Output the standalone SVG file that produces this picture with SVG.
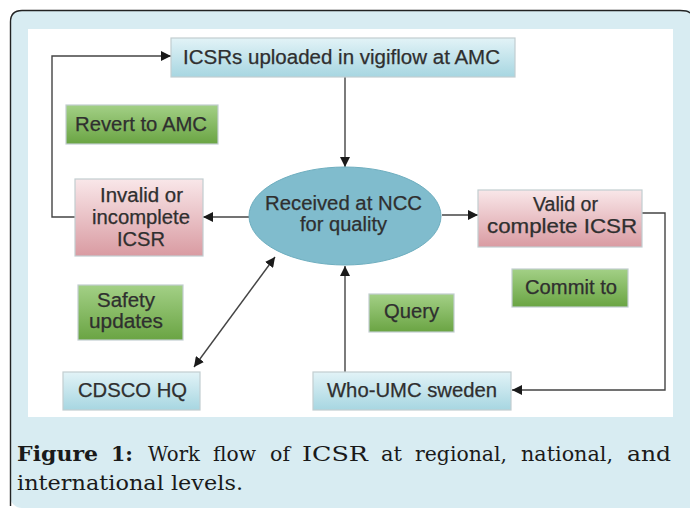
<svg xmlns="http://www.w3.org/2000/svg" width="690" height="513" viewBox="0 0 690 513">
  <defs>
    <linearGradient id="gBlue" x1="0" y1="0" x2="0" y2="1">
      <stop offset="0" stop-color="#e2f3f7"/>
      <stop offset="1" stop-color="#a7d6e1"/>
    </linearGradient>
    <linearGradient id="gGreen" x1="0" y1="0" x2="0" y2="1">
      <stop offset="0" stop-color="#a3d086"/>
      <stop offset="1" stop-color="#6aa443"/>
    </linearGradient>
    <linearGradient id="gPink" x1="0" y1="0" x2="0" y2="1">
      <stop offset="0" stop-color="#f9e7e9"/>
      <stop offset="1" stop-color="#d99ba2"/>
    </linearGradient>
    <marker id="arr" viewBox="0 0 10 10" refX="10" refY="5" markerWidth="10" markerHeight="10" markerUnits="userSpaceOnUse" orient="auto-start-reverse">
      <path d="M0,0 L10,5 L0,10 Z" fill="#1a1a1a"/>
    </marker>
    <style>
      .box { stroke: #c2cdd0; stroke-width: 1.2; }
      .blue { fill: url(#gBlue); }
      .green { fill: url(#gGreen); }
      .pink { fill: url(#gPink); }
      .lbl { font-family: "Liberation Sans", Arial, sans-serif; font-size: 20px; fill: #2f2f2f; stroke: #2f2f2f; stroke-width: 0.25; }
      .conn { fill: none; stroke: #444; stroke-width: 1.4; }
      .cap { font-family: "DejaVu Serif", "Liberation Serif", serif; font-size: 21px; fill: #1a1a1a; }
      .capb { font-weight: bold; }
    </style>
  </defs>

  <!-- figure panel -->
  <rect x="10" y="10" width="692" height="498" rx="12" fill="#d8ecf2"/>
  <path d="M10.5,506 L10.5,22 Q10.5,10.5 22,10.5 L680,10.5 Q688,10.5 690,13" fill="none" stroke="#222" stroke-width="1.4"/>
  <rect x="28" y="29" width="645" height="388" fill="#ffffff"/>

  <!-- connectors -->
  <g id="connectors">
    <path class="conn" d="M345,77 L345,167" marker-end="url(#arr)"/>
    <path class="conn" d="M249,217 L203,217" marker-end="url(#arr)"/>
    <path class="conn" d="M442,215 L478,215" marker-end="url(#arr)"/>
    <path class="conn" d="M75,217 L52,217 L52,56 L171,56" marker-end="url(#arr)"/>
    <path class="conn" d="M642,213 L665,213 L665,390 L512,390" marker-end="url(#arr)"/>
    <path class="conn" d="M345,372 L345,266" marker-end="url(#arr)"/>
    <path class="conn" d="M194,367 L275,257" marker-start="url(#arr)" marker-end="url(#arr)"/>
  </g>

  <g id="amc">
    <rect class="box blue" x="171" y="38" width="344" height="39"/>
    <text class="lbl" x="183" y="64" textLength="317" lengthAdjust="spacingAndGlyphs">ICSRs uploaded in vigiflow at AMC</text>
  </g>

  <g id="revert">
    <rect class="box green" x="66" y="105" width="152" height="39"/>
    <text class="lbl" x="75" y="131" textLength="132" lengthAdjust="spacingAndGlyphs">Revert to AMC</text>
  </g>

  <g id="invalid">
    <rect class="box pink" x="75" y="179" width="128" height="77"/>
    <text class="lbl" x="100" y="202" textLength="83" lengthAdjust="spacingAndGlyphs">Invalid or</text>
    <text class="lbl" x="92" y="224" textLength="98" lengthAdjust="spacingAndGlyphs">incomplete</text>
    <text class="lbl" x="117" y="246" textLength="48" lengthAdjust="spacingAndGlyphs">ICSR</text>
  </g>

  <g id="ncc">
    <ellipse cx="345" cy="216" rx="96" ry="49" fill="#80bccd" stroke="#6eaebf" stroke-width="1"/>
    <text class="lbl" x="265" y="210" textLength="157" lengthAdjust="spacingAndGlyphs">Received at NCC</text>
    <text class="lbl" x="300" y="231" textLength="87" lengthAdjust="spacingAndGlyphs">for quality</text>
  </g>

  <g id="valid">
    <rect class="box pink" x="478" y="190" width="164" height="57"/>
    <text class="lbl" x="533" y="211" textLength="65" lengthAdjust="spacingAndGlyphs">Valid or</text>
    <text class="lbl" x="487" y="233" textLength="150" lengthAdjust="spacingAndGlyphs">complete ICSR</text>
  </g>

  <g id="commit">
    <rect class="box green" x="512" y="269" width="116" height="38"/>
    <text class="lbl" x="525" y="294" textLength="92" lengthAdjust="spacingAndGlyphs">Commit to</text>
  </g>

  <g id="query">
    <rect class="box green" x="369" y="294" width="85" height="38"/>
    <text class="lbl" x="384" y="318" textLength="55" lengthAdjust="spacingAndGlyphs">Query</text>
  </g>

  <g id="safety">
    <rect class="box green" x="78" y="285" width="105" height="55"/>
    <text class="lbl" x="97" y="307" textLength="58" lengthAdjust="spacingAndGlyphs">Safety</text>
    <text class="lbl" x="89" y="328" textLength="74" lengthAdjust="spacingAndGlyphs">updates</text>
  </g>

  <g id="cdsco">
    <rect class="box blue" x="63" y="372" width="137" height="38"/>
    <text class="lbl" x="78" y="397" textLength="109" lengthAdjust="spacingAndGlyphs">CDSCO HQ</text>
  </g>

  <g id="umc">
    <rect class="box blue" x="313" y="372" width="198" height="38"/>
    <text class="lbl" x="327" y="397" textLength="170" lengthAdjust="spacingAndGlyphs">Who-UMC sweden</text>
  </g>

  <!-- caption, justified word by word -->
  <g id="caption">
    <text class="cap capb" x="17" y="461" textLength="81" lengthAdjust="spacingAndGlyphs">Figure</text>
    <text class="cap capb" x="111" y="461" textLength="22" lengthAdjust="spacingAndGlyphs">1:</text>
    <text class="cap" x="148" y="461" textLength="52" lengthAdjust="spacingAndGlyphs">Work</text>
    <text class="cap" x="213" y="461" textLength="43" lengthAdjust="spacingAndGlyphs">flow</text>
    <text class="cap" x="270" y="461" textLength="20" lengthAdjust="spacingAndGlyphs">of</text>
    <text class="cap" x="302" y="461" textLength="66" lengthAdjust="spacingAndGlyphs">ICSR</text>
    <text class="cap" x="381" y="461" textLength="21" lengthAdjust="spacingAndGlyphs">at</text>
    <text class="cap" x="415" y="461" textLength="92" lengthAdjust="spacingAndGlyphs">regional,</text>
    <text class="cap" x="521" y="461" textLength="92" lengthAdjust="spacingAndGlyphs">national,</text>
    <text class="cap" x="627" y="461" textLength="44" lengthAdjust="spacingAndGlyphs">and</text>
    <text class="cap" x="17" y="490" textLength="226" lengthAdjust="spacingAndGlyphs">international levels.</text>
  </g>
</svg>
